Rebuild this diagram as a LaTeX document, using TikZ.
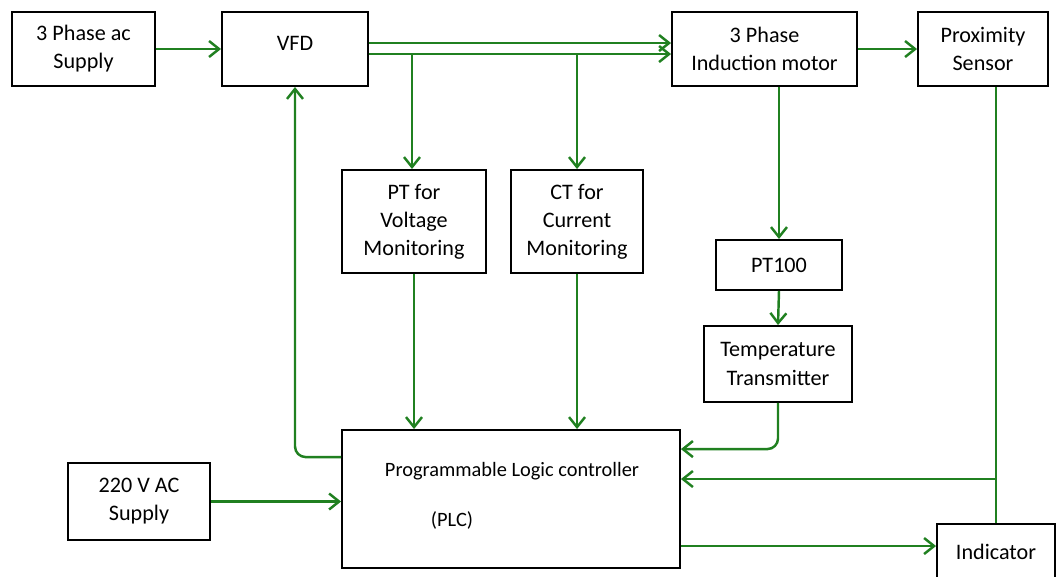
\documentclass[tikz,border=0pt]{standalone}
\usepackage{fontspec}
\setmainfont{Carlito}
\usetikzlibrary{arrows.meta,calc}
\definecolor{linkgreen}{RGB}{32,128,32}

\tikzset{
blk/.style={draw=black, line width=1.1pt, fill=white, align=center, font=\fontsize{12.6}{16}\selectfont},
lnk/.style={draw=linkgreen, line width=1.4pt},
arr/.style={lnk, -{Straight Barb[length=2mm,width=3.2mm,line width=1.4pt]}},
}

\begin{document}
\begin{tikzpicture}[x=0.02cm,y=-0.02cm]
\useasboundingbox (0,0) rectangle (1058,576);
% blocks
\node[blk, minimum width=2.86cm, minimum height=1.48cm] (acsup) at (83.5,49) {3 Phase ac\\Supply};
\node[blk, minimum width=2.92cm, minimum height=1.48cm] (vfd) at (295,49) {\raisebox{6pt}{VFD}};
\node[blk, minimum width=3.7cm, minimum height=1.48cm] (motor) at (764.5,49) {3 Phase\\Induction motor};
\node[blk, minimum width=2.6cm, minimum height=1.48cm] (prox) at (983,49) {Proximity\\Sensor};
\node[blk, minimum width=2.88cm, minimum height=2.06cm] (ptv) at (414,221.5) {PT for\\Voltage\\Monitoring};
\node[blk, minimum width=2.64cm, minimum height=2.06cm] (ctc) at (577,221.5) {CT for\\Current\\Monitoring};
\node[blk, minimum width=2.52cm, minimum height=1.0cm] (pt100) at (779,265) {PT100};
\node[blk, minimum width=2.96cm, minimum height=1.52cm] (tt) at (778,364) {Temperature\\Transmitter};
\node[blk, minimum width=6.76cm, minimum height=2.76cm] (plc) at (511,499) {};
\node[font=\fontsize{11.6}{16}\selectfont] (plcname) at (512,471) {Programmable Logic controller};
\node[font=\fontsize{11.6}{16}\selectfont] (plcabbr) at (452,520) {(PLC)};
\node[blk, minimum width=2.84cm, minimum height=1.54cm] (ac220) at (139,501.5) {220 V AC\\Supply};
\node[blk, minimum width=2.36cm, minimum height=1.12cm] (ind) at (996,552) {Indicator};

% power path
\coordinate (upline) at ($(vfd.east)+(0,-6)$);
\coordinate (lowline) at ($(vfd.east)+(0,5)$);
\draw[arr] (acsup.east) -- (vfd.west);
\draw[arr] (upline) -- (upline -| motor.west);
\draw[arr] (lowline) -- (lowline -| motor.west);
\draw[arr] (lowline -| 412,0) -- (ptv.north -| 412,0);
\draw[arr] (lowline -| ctc) -- (ctc.north);
\draw[arr] (motor.east) -- (prox.west);

% monitoring
\draw[arr] (motor.south -| pt100) -- (pt100.north);
\draw[arr] (pt100.south) -- (tt.north);
\draw[arr, rounded corners=6pt] (tt.south) |- ($(plc.north east)+(0,20)$);
\draw[arr] (ptv.south) -- (ptv.south |- plc.north);
\draw[arr] (ctc.south) -- (ctc.south |- plc.north);
\draw[arr] (ac220.east) -- (ac220.east -| plc.west);

% sensor and indicator
\coordinate (plcin) at ($(plc.east)+(0,-20)$);
\coordinate (plcout) at ($(plc.east)+(0,47)$);
\draw[lnk] (prox.south -| ind.north) -- (ind.north);
\draw[arr] (ind.north |- plcin) -- (plcin);
\draw[arr] (plcout) -- (plcout -| ind.west);
\draw[arr, rounded corners=6pt] ($(plc.north west)+(0,28)$) -| (vfd.south);
\end{tikzpicture}
\end{document}
